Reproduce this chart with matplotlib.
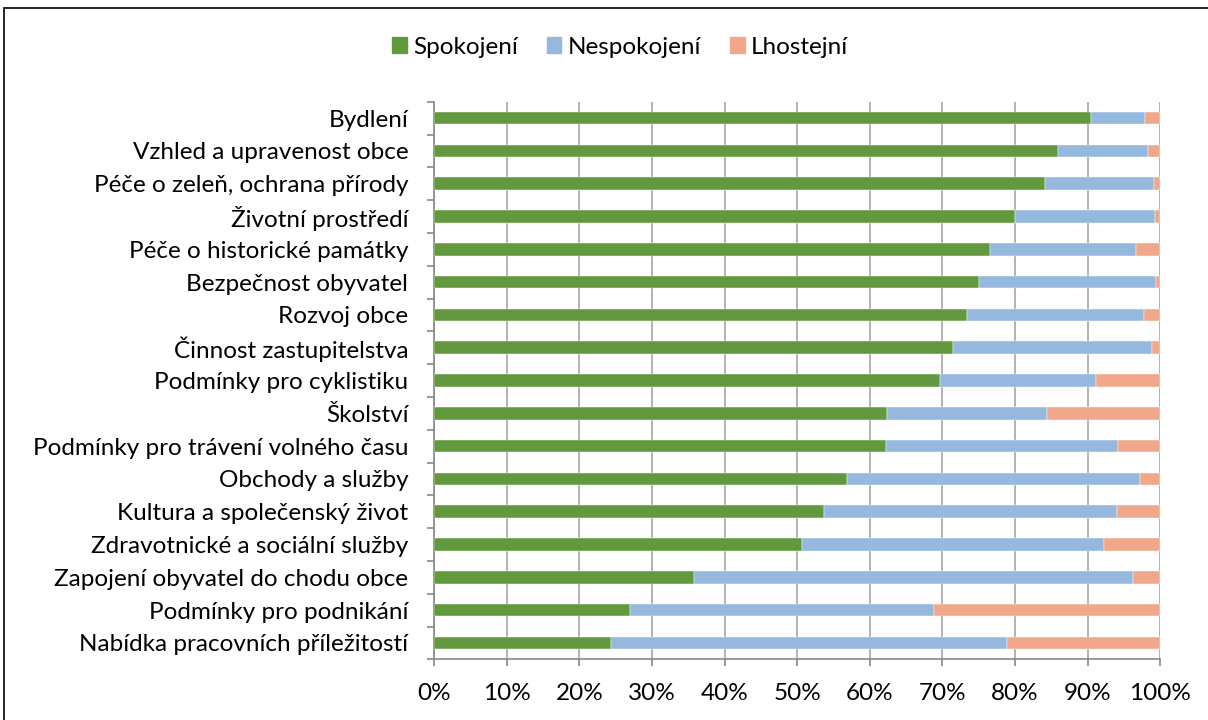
import matplotlib
matplotlib.use("Agg")
import matplotlib.pyplot as plt
from matplotlib.patches import Rectangle, Patch
from matplotlib.ticker import MultipleLocator, FuncFormatter

categories = [
    "Bydlení",
    "Vzhled a upravenost obce",
    "Péče o zeleň, ochrana přírody",
    "Životní prostředí",
    "Péče o historické památky",
    "Bezpečnost obyvatel",
    "Rozvoj obce",
    "Činnost zastupitelstva",
    "Podmínky pro cyklistiku",
    "Školství",
    "Podmínky pro trávení volného času",
    "Obchody a služby",
    "Kultura a společenský život",
    "Zdravotnické a sociální služby",
    "Zapojení obyvatel do chodu obce",
    "Podmínky pro podnikání",
    "Nabídka pracovních příležitostí",
]
spokojeni = [90.4, 85.9, 84.1, 80.0, 76.6, 75.0, 73.4, 71.5, 69.6, 62.4, 62.2, 56.8, 53.7, 50.7, 35.8, 27.0, 24.4]
nespokojeni = [7.5, 12.4, 15.1, 19.3, 20.0, 24.4, 24.3, 27.4, 21.5, 22.0, 32.0, 40.4, 40.3, 41.5, 60.5, 41.9, 54.5]
lhostejni = [round(100 - a - b, 1) for a, b in zip(spokojeni, nespokojeni)]
series_names = ["Spokojení", "Nespokojení", "Lhostejní"]
colors = ["#62993E", "#95B8DF", "#F1A88A"]

plt.rcParams['font.family'] = ['Lato', 'DejaVu Sans']

fig = plt.figure(figsize=(12.08, 7.2), dpi=100)
ax = fig.add_axes([434/1208, 1 - 659.3/720, (1160.3-434)/1208, (659.3-101.7)/720])

y = list(range(len(categories)))
left = [0]*len(categories)
for vals, name, c in zip([spokojeni, nespokojeni, lhostejni], series_names, colors):
    ax.barh(y, vals, left=left, height=0.39, color=c, label=name, zorder=3,
            edgecolor='white', linewidth=0.3)
    left = [l + v for l, v in zip(left, vals)]

ax.set_xlim(0, 100)
ax.set_ylim(len(categories) - 0.5, -0.5)
ax.set_yticks(y)
ax.set_yticklabels(categories, fontsize=17.5)
ax.set_yticks([i + 0.5 for i in range(-1, len(categories))], minor=True)
ax.tick_params(axis='y', which='major', length=0, pad=18.5)
ax.tick_params(axis='y', which='minor', length=5, color='#888888', width=1.2)
ax.xaxis.set_major_locator(MultipleLocator(10))
ax.xaxis.set_major_formatter(FuncFormatter(lambda v, p: f"{int(v)}%"))
ax.tick_params(axis='x', which='major', length=5, color='#888888', width=1.2, labelsize=17.5, pad=12)
ax.grid(axis='x', color='#A6A6A6', linewidth=1.2, zorder=0)
for s in ['top', 'right']:
    ax.spines[s].set_visible(False)
for s in ['left', 'bottom']:
    ax.spines[s].set_color('#888888')
    ax.spines[s].set_linewidth(1.2)

handles = [Patch(color=c, label=n) for c, n in zip(colors, series_names)]
fig.legend(handles=handles, loc='center', bbox_to_anchor=(620/1208, 1 - 47/720), ncol=3,
           frameon=False, fontsize=17.5, handlelength=0.6, handleheight=0.6,
           handletextpad=0.25, columnspacing=1.2)

fig.patches.append(Rectangle((4/1208, -0.05), 1.1, 1 - 8/720 + 0.05, transform=fig.transFigure,
                             fill=False, edgecolor='black', linewidth=1.2, clip_on=False))

fig.savefig("out.png", dpi=100)
